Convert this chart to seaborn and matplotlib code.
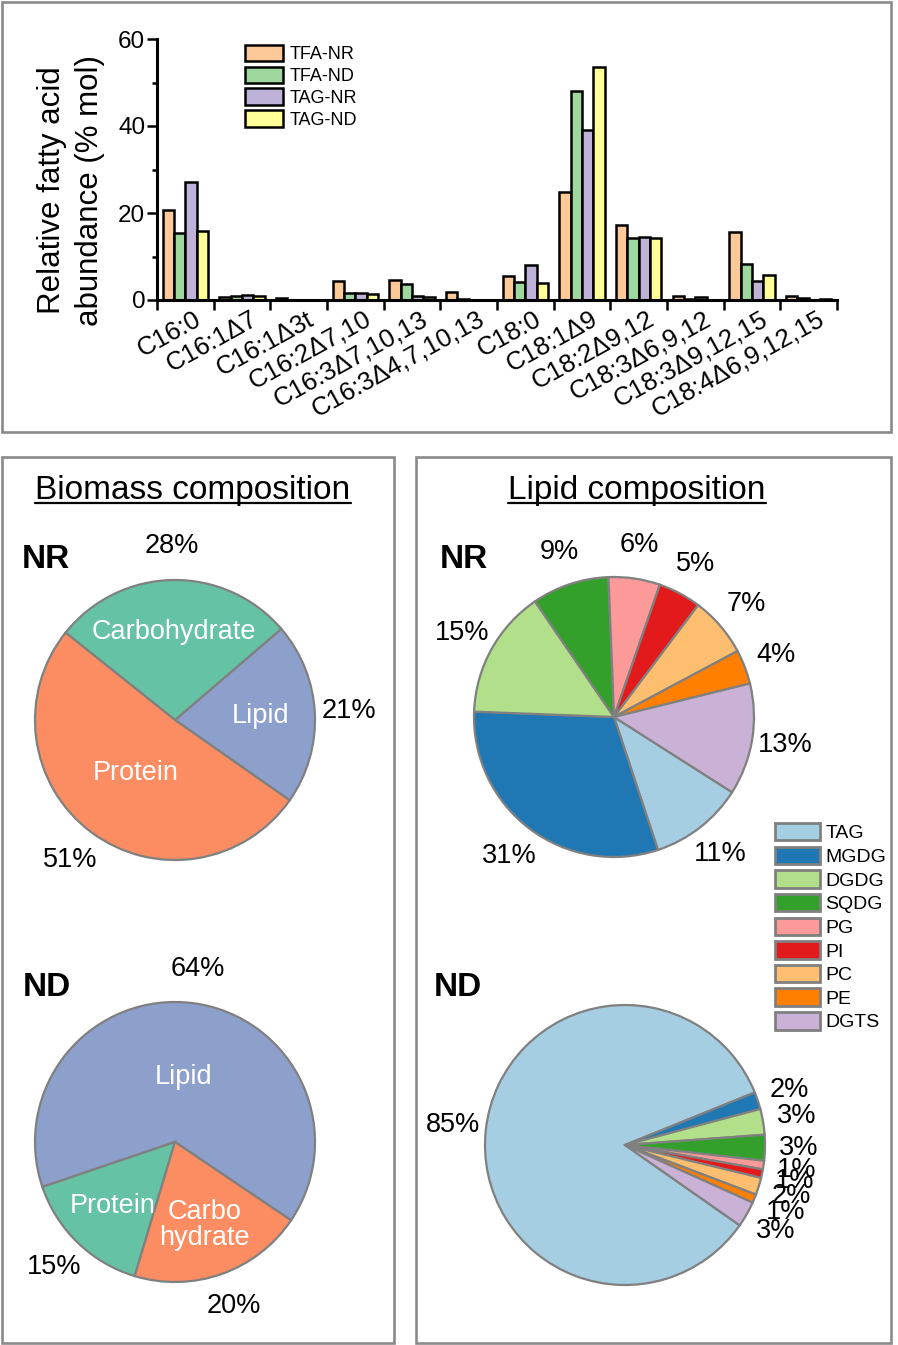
import numpy as np
import pandas as pd
import matplotlib
matplotlib.use('Agg')
import matplotlib.pyplot as plt
import matplotlib.transforms as mtransforms
from matplotlib.patches import Rectangle, Patch
from matplotlib.lines import Line2D
import seaborn as sns

# ---- data ----
fatty_acids = ['C16:0', 'C16:1Δ7', 'C16:1Δ3t', 'C16:2Δ7,10', 'C16:3Δ7,10,13',
               'C16:3Δ4,7,10,13', 'C18:0', 'C18:1Δ9', 'C18:2Δ9,12',
               'C18:3Δ6,9,12', 'C18:3Δ9,12,15', 'C18:4Δ6,9,12,15']
series_names = ['TFA-NR', 'TFA-ND', 'TAG-NR', 'TAG-ND']
tfa_nr = [20.7, 0.7, 0.4, 4.4, 4.6, 1.8, 5.5, 24.8, 17.3, 1.0, 15.7, 0.9]
tfa_nd = [15.5, 0.9, 0.1, 1.5, 3.6, 0.2, 4.2, 48.1, 14.3, 0.2, 8.2, 0.4]
tag_nr = [27.2, 1.1, 0.05, 1.5, 0.9, 0.1, 8.0, 39.1, 14.5, 0.8, 4.4, 0.1]
tag_nd = [15.9, 0.9, 0.05, 1.3, 0.6, 0.1, 3.8, 53.6, 14.3, 0.1, 5.7, 0.2]
bar_colors = ['#fdc999', '#9fd89f', '#bfb2d8', '#ffff99']

biomass_parts_nr = ['Lipid', 'Carbohydrate', 'Protein']
biomass_nr = [21, 28, 51]
biomass_parts_nd = ['Lipid', 'Protein', 'Carbo\nhydrate']
biomass_nd = [64, 15, 20]

lipid_classes = ['TAG', 'MGDG', 'DGDG', 'SQDG', 'PG', 'PI', 'PC', 'PE', 'DGTS']
lipid_nr = [11, 31, 15, 9, 6, 5, 7, 4, 13]
lipid_nd = [85, 2, 3, 3, 1, 1, 2, 1, 3]

# ---- style ----
sns.set_style('ticks', rc={'text.color': 'black', 'axes.labelcolor': 'black',
                           'xtick.color': 'black', 'ytick.color': 'black',
                           'axes.edgecolor': 'black'})
plt.rcParams['font.family'] = ['Liberation Sans', 'DejaVu Sans']

W, H = 898, 1345
fig = plt.figure(figsize=(W / 100, H / 100), dpi=100)


def px_axes(left, top, width, height):
    return fig.add_axes([left / W, 1 - (top + height) / H, width / W, height / H])


def box(left, top, right, bottom):
    fig.patches.append(Rectangle((left / W, 1 - bottom / H), (right - left) / W,
                                 (bottom - top) / H, transform=fig.transFigure,
                                 fill=False, edgecolor='#8a8a8a', linewidth=1.9))


box(2, 2, 891, 432)
box(2, 457, 394, 1343)
box(416, 457, 891, 1343)

# ---- bar chart ----
df = pd.DataFrame({'fa': fatty_acids * 4,
                   'series': np.repeat(series_names, len(fatty_acids)),
                   'pct': tfa_nr + tfa_nd + tag_nr + tag_nd})

ax = px_axes(157, 39, 680, 261)
sns.barplot(data=df, x='fa', y='pct', hue='series', palette=bar_colors,
            saturation=1, width=0.8, edgecolor='black', linewidth=1.8, ax=ax)
sns.despine(ax=ax)
ax.set_xlim(-0.5, len(fatty_acids) - 0.5)
ax.set_ylim(0, 60)
ax.set_yticks([0, 20, 40, 60])
ax.set_yticks([10, 30, 50], minor=True)
ax.set_xticks(np.arange(len(fatty_acids)))
ax.set_xticklabels(fatty_acids, rotation=29, ha='right', va='top',
                   rotation_mode='anchor')
ax.set_xticks(np.arange(-0.5, len(fatty_acids)), minor=True)
for s in ['left', 'bottom']:
    ax.spines[s].set_linewidth(2.2)
ax.tick_params(axis='y', which='major', length=7, width=1.8, pad=1.5,
               labelsize=17.5)
ax.tick_params(axis='y', which='minor', length=3.8, width=1.8)
ax.tick_params(axis='x', which='major', length=0, pad=5, labelsize=18.5)
ax.tick_params(axis='x', which='minor', length=7, width=1.8)
shift = mtransforms.ScaledTranslation(0.08, 0, fig.dpi_scale_trans)
for lbl in ax.xaxis.get_majorticklabels():
    lbl.set_transform(lbl.get_transform() + shift)
ax.set_xlabel('')
ax.set_ylabel('Relative fatty acid\nabundance (% mol)', fontsize=22.5,
              linespacing=1.32)
ax.yaxis.set_label_coords(-0.077, 0.42)
handles, labels = ax.get_legend_handles_labels()
ax.legend(handles, labels, loc='upper left', bbox_to_anchor=(0.129, 0.978),
          frameon=False, borderpad=0, borderaxespad=0, fontsize=13,
          handlelength=2.1, handleheight=1.05, labelspacing=0.18,
          handletextpad=0.4)

# ---- pies ----
def pie_axes(cx, cy, r, pad=1.06):
    return px_axes(cx - r * pad, cy - r * pad, 2 * r * pad, 2 * r * pad)


wedge_style = dict(edgecolor='#808080', linewidth=1.6)


def biomass_pie(cx, cy, vals, names, start, inner_dist):
    a = pie_axes(cx, cy, 140)
    total = sum(vals)
    set2 = sns.color_palette('Set2')
    wedges, texts, autotexts = a.pie(
        vals, labels=names, colors=[set2[2], set2[0], set2[1]],
        startangle=start, counterclock=True, labeldistance=0.6,
        autopct=lambda p: f'{p * total / 100:.0f}%', pctdistance=1.245,
        wedgeprops=wedge_style, textprops=dict(fontsize=19.5, color='black'))
    for t, d in zip(texts, inner_dist):
        x, y = t.get_position()
        t.set_position((x * d / 0.6, y * d / 0.6))
        t.set_ha('center')
        t.set_color('white')
        t.set_linespacing(1.0)
    a.set_xlim(-1.06, 1.06)
    a.set_ylim(-1.06, 1.06)
    a.set_aspect('equal')
    return a


def lipid_pie(cx, cy, vals, start):
    a = pie_axes(cx, cy, 140)
    total = sum(vals)
    a.pie(vals, colors=sns.color_palette('Paired', len(vals)),
          startangle=start, counterclock=False,
          autopct=lambda p: f'{p * total / 100:.0f}%', pctdistance=1.24,
          wedgeprops=wedge_style, textprops=dict(fontsize=19.5, color='black'))
    a.set_xlim(-1.06, 1.06)
    a.set_ylim(-1.06, 1.06)
    a.set_aspect('equal')
    return a


biomass_pie(175, 720, biomass_nr, biomass_parts_nr, -35, [0.61, 0.63, 0.47])
biomass_pie(175, 1142, biomass_nd, biomass_parts_nd, -34, [0.47, 0.64, 0.63])
lipid_pie(614, 717, lipid_nr, -32.5)
lipid_pie(625, 1145, lipid_nd, -35)

# ---- panel texts ----
titles = []
titles.append(fig.text(193 / W, 1 - 499 / H, 'Biomass composition', fontsize=24,
                       ha='center', va='baseline'))
titles.append(fig.text(637 / W, 1 - 499 / H, 'Lipid composition', fontsize=24,
                       ha='center', va='baseline'))
for x, y, s in [(46, 560, 'NR'), (464, 560, 'NR'), (47, 988, 'ND'), (458, 988, 'ND')]:
    fig.text(x / W, 1 - y / H, s, fontsize=24, fontweight='bold',
             ha='center', va='center')

fig.canvas.draw()
for t in titles:
    bb = t.get_window_extent()
    yl = 1 - 503 / H
    fig.add_artist(Line2D([bb.x0 / W, bb.x1 / W], [yl, yl], color='black',
                          linewidth=1.6, transform=fig.transFigure))

lipid_handles = [Patch(facecolor=c, edgecolor='#808080', linewidth=2)
                 for c in sns.color_palette('Paired', len(lipid_classes))]
fig.legend(lipid_handles, lipid_classes, loc='upper left',
           bbox_to_anchor=(775 / W, 1 - 823 / H), frameon=False, borderpad=0,
           borderaxespad=0, fontsize=14, handlelength=2.3, handleheight=1.0,
           labelspacing=0.22, handletextpad=0.3)

fig.savefig('out.png', dpi=100)
